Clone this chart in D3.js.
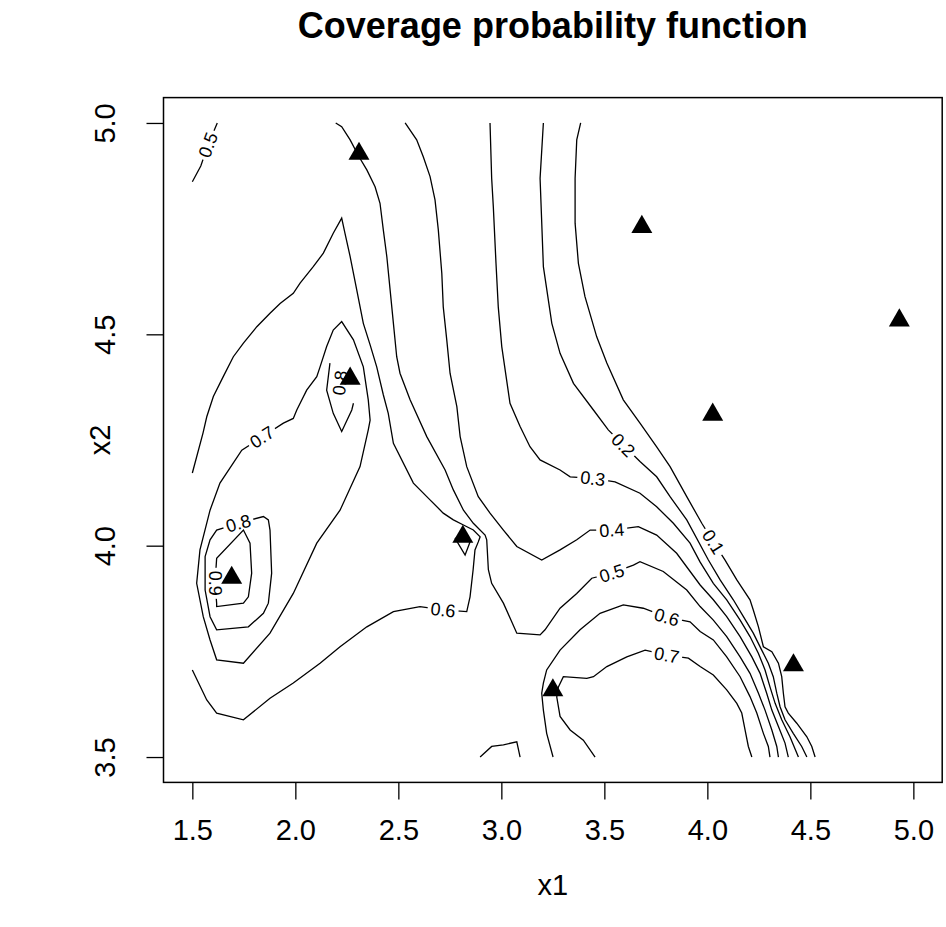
<!DOCTYPE html>
<html>
<head>
<meta charset="utf-8">
<script src="https://cdn.jsdelivr.net/npm/d3@7"></script>
<style>
  html, body { margin: 0; padding: 0; background: #fff; }
  svg { display: block; font-family: "Liberation Sans", Arial, sans-serif; }
</style>
</head>
<body>
<svg id="chart" width="946" height="927"></svg>
<script>
// ---------------- data ----------------
const chartTitle = "Coverage probability function";
const xLabel = "x1";
const yLabel = "x2";
const xTicks = [1.5, 2.0, 2.5, 3.0, 3.5, 4.0, 4.5, 5.0];
const yTicks = [3.5, 4.0, 4.5, 5.0];

// sampled design points (triangles)
const pointX1 = [2.309, 3.682, 4.932, 4.026, 2.266, 2.813, 1.691, 4.418, 3.250];
const pointX2 = [4.927, 4.754, 4.533, 4.310, 4.395, 4.021, 3.924, 3.717, 3.658];

// contour lines, [x1, x2] pairs
const line01 = [[3.385,5.0],[3.366,4.960],[3.358,4.869],[3.358,4.763],[3.374,4.668],[3.406,4.589],[3.463,4.494],[3.512,4.432],[3.592,4.345],[3.673,4.290],[3.754,4.234],[3.819,4.187],[3.900,4.116],[3.973,4.053],[4.029,4.009],[4.086,3.966],[4.143,3.919],[4.207,3.872],[4.223,3.848],[4.248,3.808],[4.272,3.761],[4.313,3.749],[4.345,3.722],[4.361,3.690],[4.369,3.651],[4.377,3.619],[4.393,3.604],[4.434,3.580],[4.483,3.548],[4.507,3.525],[4.523,3.5]];
const line02 = [[3.204,5.0],[3.188,4.869],[3.204,4.660],[3.245,4.526],[3.285,4.455],[3.350,4.384],[3.447,4.321],[3.519,4.274],[3.592,4.238],[3.673,4.199],[3.754,4.163],[3.819,4.116],[3.900,4.061],[4.005,3.966],[4.062,3.919],[4.126,3.872],[4.175,3.832],[4.223,3.793],[4.264,3.753],[4.296,3.722],[4.320,3.690],[4.337,3.651],[4.353,3.619],[4.377,3.588],[4.417,3.556],[4.458,3.525],[4.483,3.5]];
const line03 = [[2.945,5.0],[2.953,4.869],[2.961,4.802],[2.974,4.668],[2.985,4.565],[3.002,4.471],[3.042,4.337],[3.091,4.282],[3.139,4.234],[3.188,4.203],[3.285,4.179],[3.334,4.163],[3.444,4.159],[3.552,4.151],[3.673,4.124],[3.754,4.092],[3.835,4.053],[3.916,4.006],[3.965,3.961],[4.029,3.911],[4.094,3.872],[4.159,3.824],[4.207,3.785],[4.248,3.745],[4.280,3.706],[4.304,3.666],[4.329,3.627],[4.361,3.588],[4.401,3.548],[4.442,3.5]];
const line04 = [[2.533,5.0],[2.589,4.960],[2.621,4.920],[2.654,4.873],[2.678,4.818],[2.694,4.747],[2.711,4.644],[2.718,4.565],[2.735,4.487],[2.751,4.408],[2.784,4.329],[2.800,4.258],[2.832,4.187],[2.888,4.116],[2.945,4.077],[3.010,4.037],[3.075,3.998],[3.196,3.966],[3.285,3.990],[3.366,4.014],[3.431,4.037],[3.536,4.037],[3.665,4.045],[3.754,4.025],[3.851,3.982],[3.965,3.907],[4.029,3.872],[4.094,3.832],[4.159,3.785],[4.216,3.737],[4.256,3.698],[4.288,3.651],[4.313,3.611],[4.345,3.572],[4.377,3.533],[4.393,3.5]];
const line05 = [[2.196,5.0],[2.225,4.991],[2.266,4.960],[2.309,4.920],[2.347,4.889],[2.387,4.849],[2.411,4.810],[2.427,4.747],[2.444,4.684],[2.460,4.605],[2.476,4.526],[2.492,4.447],[2.508,4.408],[2.557,4.345],[2.638,4.258],[2.727,4.179],[2.767,4.132],[2.816,4.084],[2.864,4.053],[2.921,4.025],[2.929,4.014],[2.937,3.943],[2.953,3.911],[3.010,3.864],[3.075,3.793],[3.188,3.789],[3.212,3.801],[3.285,3.852],[3.366,3.887],[3.439,3.923],[3.536,3.935],[3.641,3.954],[3.673,3.962],[3.786,3.939],[3.900,3.895],[3.965,3.856],[4.029,3.824],[4.094,3.785],[4.159,3.737],[4.207,3.698],[4.248,3.651],[4.280,3.611],[4.313,3.564],[4.337,3.525],[4.345,3.5]];
const line05b = [[1.5,4.861],[1.541,4.898],[1.576,4.948],[1.621,5.0]];
const line06a = [[1.5,4.172],[1.552,4.267],[1.570,4.305],[1.602,4.353],[1.650,4.400],[1.699,4.447],[1.748,4.479],[1.813,4.518],[1.877,4.550],[1.926,4.573],[1.990,4.597],[2.023,4.621],[2.087,4.660],[2.136,4.692],[2.184,4.739],[2.225,4.775],[2.241,4.739],[2.266,4.684],[2.298,4.605],[2.330,4.526],[2.363,4.475],[2.395,4.423],[2.427,4.357],[2.451,4.313],[2.476,4.242],[2.573,4.148],[2.638,4.116],[2.718,4.077],[2.767,4.061],[2.816,4.049],[2.864,4.037],[2.897,4.021],[2.888,4.009],[2.872,3.990],[2.863,3.943],[2.848,3.879],[2.832,3.844],[2.717,3.848],[2.605,3.856],[2.476,3.844],[2.347,3.808],[2.217,3.761],[2.120,3.722],[1.990,3.675],[1.877,3.639],[1.748,3.588],[1.618,3.604],[1.570,3.635],[1.5,3.706]];
const line06b = [[3.251,3.5],[3.220,3.556],[3.204,3.611],[3.196,3.651],[3.204,3.675],[3.220,3.706],[3.285,3.753],[3.382,3.801],[3.479,3.840],[3.592,3.860],[3.689,3.852],[3.803,3.831],[3.916,3.820],[3.965,3.797],[4.029,3.777],[4.094,3.737],[4.159,3.690],[4.207,3.643],[4.240,3.604],[4.272,3.556],[4.296,3.525],[4.304,3.5]];
const line06c = [[2.897,3.5],[2.953,3.525],[3.010,3.529],[3.075,3.536],[3.091,3.5]];
const line07a = [[3.455,3.5],[3.398,3.540],[3.334,3.564],[3.285,3.596],[3.269,3.642],[3.277,3.666],[3.301,3.690],[3.415,3.686],[3.447,3.690],[3.512,3.714],[3.609,3.737],[3.698,3.753],[3.803,3.741],[3.908,3.734],[3.965,3.714],[4.029,3.694],[4.094,3.659],[4.143,3.627],[4.167,3.604],[4.183,3.564],[4.199,3.525],[4.216,3.5]];
const line07b = [[1.838,4.257],[1.942,4.290],[1.990,4.301],[2.007,4.321],[2.055,4.368],[2.104,4.400],[2.120,4.423],[2.152,4.471],[2.184,4.510],[2.225,4.530],[2.282,4.487],[2.330,4.423],[2.354,4.345],[2.363,4.297],[2.354,4.274],[2.314,4.187],[2.217,4.084],[2.104,4.006],[1.990,3.887],[1.877,3.793],[1.748,3.722],[1.618,3.730],[1.586,3.777],[1.553,3.832],[1.521,3.911],[1.537,3.990],[1.586,4.084],[1.634,4.148],[1.740,4.226]];
const line07c = [[2.775,4.018],[2.824,3.978],[2.848,4.009]];
const line08a = [[1.723,4.053],[1.845,4.069],[1.869,4.061],[1.877,4.037],[1.885,3.935],[1.869,3.864],[1.845,3.840],[1.772,3.808],[1.618,3.801],[1.586,3.832],[1.562,3.895],[1.562,3.974],[1.586,4.014],[1.618,4.037]];
const line08b = [[2.282,4.337],[2.274,4.321],[2.225,4.270],[2.184,4.313],[2.152,4.368],[2.168,4.432]];
const line09 = [[1.610,3.911],[1.618,3.970],[1.748,4.037],[1.780,4.006],[1.788,3.935],[1.772,3.879],[1.748,3.864],[1.618,3.856],[1.618,3.864]];

const contourNames  = ["line01","line02","line03","line04","line05","line05b","line06a","line06b","line06c","line07a","line07b","line07c","line08a","line08b","line09"];
const contourData   = [line01, line02, line03, line04, line05, line05b, line06a, line06b, line06c, line07a, line07b, line07c, line08a, line08b, line09];
const contourClosed = [false, false, false, false, false, false, false, false, false, false, true, true, true, false, true];

// contour labels
const labelText = ["0.1","0.2","0.3","0.4","0.5","0.6","0.7","0.6","0.7","0.8","0.9","0.5","0.8"];
const labelX1   = [4.029, 3.592, 3.444, 3.536, 3.536, 3.803, 3.803, 2.717, 1.838, 1.723, 1.610, 1.576, 2.217];
const labelX2   = [4.009, 4.238, 4.159, 4.037, 3.935, 3.831, 3.741, 3.848, 4.257, 4.053, 3.911, 4.948, 4.385];
const labelLine = ["line01","line02","line03","line04","line05","line06b","line07a","line06a","line07b","line08a","line09","line05b","line08b"];

// ---------------- drawing ----------------
const svg = d3.select("#chart");
const x = d3.scaleLinear().domain([1.36, 5.14]).range([163.5, 942.2]);
const y = d3.scaleLinear().domain([3.44, 5.06]).range([782.4, 97.6]);
const [L, R] = x.range();
const [B, T] = y.range();

// title
svg.append("text")
  .attr("x", (L + R) / 2).attr("y", 25)
  .attr("text-anchor", "middle").attr("dominant-baseline", "central")
  .style("font-size", "36px").style("font-weight", "bold")
  .text(chartTitle);

// axes
const xAxis = svg.append("g").attr("transform", `translate(0,${B})`)
  .call(d3.axisBottom(x).tickValues(xTicks).tickFormat(d3.format(".1f")).tickSize(17).tickSizeOuter(0));
xAxis.select(".domain").remove();
xAxis.selectAll("line").attr("stroke", "#000").attr("stroke-width", 1.3);
xAxis.selectAll("text").attr("y", 47.6).attr("dy", "0.35em")
  .style("font-size", "29px").style("font-family", "'Liberation Sans', Arial, sans-serif").attr("fill", "#000");

const yAxis = svg.append("g").attr("transform", `translate(${L},0)`)
  .call(d3.axisLeft(y).tickValues(yTicks).tickFormat(d3.format(".1f")).tickSize(17).tickSizeOuter(0));
yAxis.select(".domain").remove();
yAxis.selectAll("line").attr("stroke", "#000").attr("stroke-width", 1.3);
yAxis.selectAll("text").attr("x", null).attr("dy", "0.35em")
  .attr("text-anchor", "middle")
  .attr("transform", "translate(-58.5,0) rotate(-90)")
  .style("font-size", "29px").style("font-family", "'Liberation Sans', Arial, sans-serif").attr("fill", "#000");

// axis titles
svg.append("text").attr("x", (L + R) / 2).attr("y", 885)
  .attr("text-anchor", "middle").attr("dominant-baseline", "central")
  .style("font-size", "29px").text(xLabel);
svg.append("text")
  .attr("transform", `translate(${L - 63.5},${(T + B) / 2}) rotate(-90)`)
  .attr("text-anchor", "middle").attr("dominant-baseline", "central")
  .style("font-size", "29px").text(yLabel);

// contour lines
const lineGen = d3.line().x(d => x(d[0])).y(d => y(d[1]));
const cg = svg.append("g").attr("fill", "none").attr("stroke", "#000").attr("stroke-width", 1.3);
contourData.forEach((pts, i) => {
  const p = contourClosed[i] ? pts.concat([pts[0]]) : pts;
  cg.append("path").attr("d", lineGen(p));
});

// contour labels
function labelAngle(pts, closed, lx, ly) {
  const sp = pts.map(d => [x(d[0]), y(d[1])]);
  const n = sp.length;
  let best = -1, bd = Infinity;
  sp.forEach((p, i) => { const dd = Math.hypot(p[0] - lx, p[1] - ly); if (dd < bd) { bd = dd; best = i; } });
  let a, b;
  if (bd < 2) {
    const ip = best > 0 ? best - 1 : (closed ? n - 1 : 0);
    const inx = best < n - 1 ? best + 1 : (closed ? 0 : n - 1);
    a = sp[ip]; b = sp[inx];
  } else {
    let sd = Infinity;
    for (let i = 0; i < n - 1; i++) {
      const p = sp[i], q = sp[i + 1];
      const vx = q[0] - p[0], vy = q[1] - p[1];
      const t = Math.max(0, Math.min(1, ((lx - p[0]) * vx + (ly - p[1]) * vy) / (vx * vx + vy * vy)));
      const dd = Math.hypot(p[0] + t * vx - lx, p[1] + t * vy - ly);
      if (dd < sd) { sd = dd; a = p; b = q; }
    }
  }
  let ang = Math.atan2(b[1] - a[1], b[0] - a[0]) * 180 / Math.PI;
  if (ang > 90) ang -= 180;
  if (ang <= -90) ang += 180;
  return ang;
}

const lg = svg.append("g");
labelText.forEach((t, i) => {
  const idx = contourNames.indexOf(labelLine[i]);
  const lx = x(labelX1[i]), ly = y(labelX2[i]);
  const ang = labelAngle(contourData[idx], contourClosed[idx], lx, ly);
  const g = lg.append("g").attr("transform", `translate(${lx},${ly}) rotate(${ang})`);
  const rect = g.append("rect").attr("fill", "#fff");
  const txt = g.append("text").attr("text-anchor", "middle").attr("dy", "0.35em")
    .style("font-size", "18px").attr("fill", "#000").text(t);
  const w = txt.node().getComputedTextLength();
  rect.attr("x", -w / 2 - 3).attr("y", -4).attr("width", w + 6).attr("height", 8);
});

// points
svg.append("g").selectAll("path")
  .data(pointX1.map((v, i) => [v, pointX2[i]]))
  .join("path")
  .attr("transform", d => `translate(${x(d[0])},${y(d[1])})`)
  .attr("d", d3.symbol(d3.symbolTriangle, 190))
  .attr("fill", "#000");

// box
svg.append("rect").attr("x", L).attr("y", T).attr("width", R - L).attr("height", B - T)
  .attr("fill", "none").attr("stroke", "#000").attr("stroke-width", 1.5);
</script>
</body>
</html>
